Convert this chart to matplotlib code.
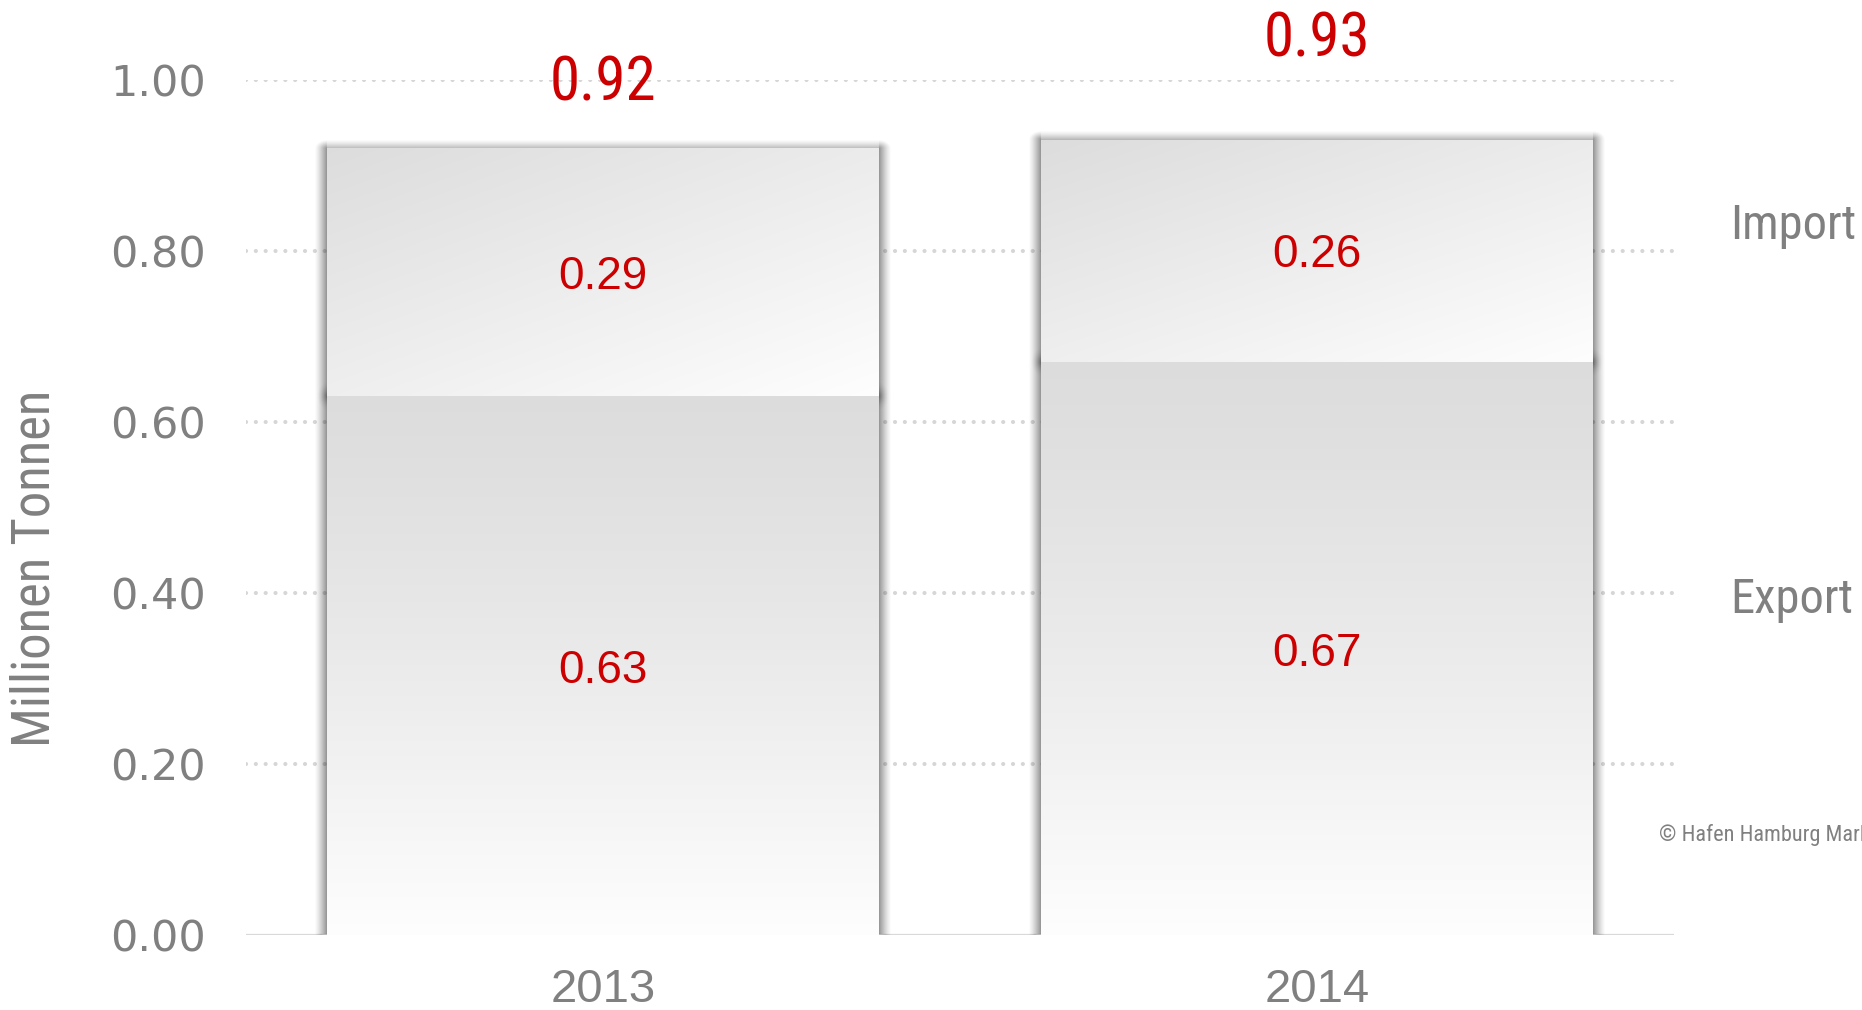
import numpy as np
import matplotlib
matplotlib.use("Agg")
import matplotlib.pyplot as plt
from matplotlib.patches import Rectangle
from matplotlib import font_manager as fm

# ---------------- data ----------------
years = ["2013", "2014"]
export_vals = [0.63, 0.67]
import_vals = [0.29, 0.26]
totals = [0.92, 0.93]
yticks = [0.0, 0.2, 0.4, 0.6, 0.8, 1.0]
series_names = ["Import", "Export"]
y_label = "Millionen Tonnen"
credit = "© Hafen Hamburg Marketing"

# ---------------- styles ----------------
RED = "#cc0000"
GRAY = "#808080"
total_label_offsets = [0.076, 0.117]


def pick(cands):
    names = {f.name for f in fm.fontManager.ttflist}
    for c in cands:
        if c in names:
            return c
    return "DejaVu Sans"


NARROW = pick(["Liberation Sans Narrow", "Roboto Condensed", "Roboto"])
ARIAL = pick(["Liberation Sans", "Arial"])

fig = plt.figure(figsize=(18.62, 10.10), dpi=100)
ax = fig.add_axes([0.1321, 0.0743, 0.7669, 0.8465])
ax.set_xlim(-0.5, 1.5)
ax.set_ylim(0, 1.0)

x = np.arange(len(years))
width = 0.773

# grid lines (round dots)
for t in yticks[1:]:
    ax.axhline(t, color="#d6d6d6", lw=3.0, ls=(0, (0.01, 2.35)),
               dash_capstyle="round", zorder=0)
ax.axhline(0, color="#d9d9d9", lw=1.6, zorder=1)

# px -> data conversions
px_x = 1.0 / 713.0
px_y = 1.0 / 855.0


def soft_shadow(x0, y0, x1, y1, z, a_side=0.45, r_side=13.0,
                a_top=0.28, r_top=9.0):
    m = max(r_side, r_top) + 2
    ex0, ex1 = x0 - m * px_x, x1 + m * px_x
    ey0, ey1 = max(y0 - m * px_y, 0), y1 + m * px_y
    nx = int((ex1 - ex0) / px_x)
    ny = int((ey1 - ey0) / px_y)
    X = np.linspace(ex0, ex1, nx)
    Y = np.linspace(ey1, ey0, ny)
    XX, YY = np.meshgrid(X, Y)
    dx = np.maximum(np.maximum(x0 - XX, XX - x1), 0) / px_x
    dy = np.maximum(np.maximum(y0 - YY, YY - y1), 0) / px_y
    ds = np.sqrt(dx ** 2 + (dy * r_side / r_top) ** 2)
    alpha = a_side * np.clip(1 - ds / r_side, 0, 1) ** 1.3
    top_only = (dx == 0)
    alpha = np.where(top_only,
                     a_top * np.clip(1 - dy / r_top, 0, 1) ** 1.3, alpha)
    img = np.zeros((ny, nx, 4))
    img[..., 3] = alpha
    ax.imshow(img, extent=(ex0, ex1, ey0, ey1), origin="upper",
              aspect="auto", interpolation="bilinear", zorder=z)


def split_blob(x0, x1, y, z, a=0.35, r=16.0):
    m = r + 2
    ex0, ex1 = x0 - m * px_x, x1 + m * px_x
    ey0, ey1 = y - m * px_y, y + m * px_y
    nx = int((ex1 - ex0) / px_x)
    ny = int((ey1 - ey0) / px_y)
    X = np.linspace(ex0, ex1, nx)
    Y = np.linspace(ey1, ey0, ny)
    XX, YY = np.meshgrid(X, Y)
    dx = np.maximum(np.maximum(x0 - XX, XX - x1), 0) / px_x
    dy = np.abs(YY - y) / px_y
    d = np.sqrt((dx * 1.4) ** 2 + dy ** 2)
    alpha = a * np.clip(1 - d / r, 0, 1) ** 2
    img = np.zeros((ny, nx, 4))
    img[..., 3] = alpha
    ax.imshow(img, extent=(ex0, ex1, ey0, ey1), origin="upper",
              aspect="auto", interpolation="bilinear", zorder=z)


def gradient_bar(x0, y0, w, h, kind, z):
    rect = Rectangle((x0, y0), w, h, facecolor="none", edgecolor="none",
                     zorder=z)
    ax.add_patch(rect)
    ny, nx = 200, 200
    yy, xx = np.mgrid[0:1:ny * 1j, 0:1:nx * 1j]
    if kind == "v":
        t = np.clip(yy ** 1.2, 0, 1)
    else:
        t = np.clip(0.55 * yy + 0.45 * xx, 0, 1)
    c0, c1 = 0.865, 0.995
    v = c0 + (c1 - c0) * t
    img = np.dstack([v, v, v])
    im = ax.imshow(img, extent=(x0, x0 + w, y0, y0 + h), origin="upper",
                   aspect="auto", interpolation="bilinear", zorder=z)
    im.set_clip_path(rect)


for i in range(len(years)):
    x0 = x[i] - width / 2
    top = export_vals[i] + import_vals[i]
    soft_shadow(x0, 0, x0 + width, top, 2)
    split_blob(x0, x0 + width, export_vals[i], 2.5)
    gradient_bar(x0, 0, width, export_vals[i], "v", 3)
    gradient_bar(x0, export_vals[i], width, import_vals[i], "d", 4)

    ax.annotate(f"{export_vals[i]:.2f}", (x[i], export_vals[i] / 2),
                xytext=(0, -4), textcoords="offset points", color=RED,
                fontsize=33, family=ARIAL, ha="center", va="center", zorder=6)
    ax.annotate(f"{import_vals[i]:.2f}",
                (x[i], export_vals[i] + import_vals[i] / 2),
                xytext=(0, -3), textcoords="offset points",
                color=RED, fontsize=33, family=ARIAL, ha="center",
                va="center", zorder=6)
    ax.text(x[i], top + total_label_offsets[i],
            f"{totals[i]:.2f}", color=RED, fontsize=44, family=NARROW,
            ha="center", va="center", zorder=6, clip_on=False)

    ax.hlines([0], [x0 - 6 * px_x], [x0 + width + 6 * px_x],
              color="#b8b8b8", lw=2.2, zorder=2.2)

ax.set_xlim(-0.5, 1.5)
ax.set_ylim(0, 1.0)

ax.set_yticks(yticks)
ax.set_yticklabels([f"{t:.2f}" for t in yticks], color=GRAY, fontsize=31,
                   family="DejaVu Sans")
ax.set_xticks(x)
ax.set_xticklabels(years, color=GRAY, fontsize=34, family=ARIAL)
ax.tick_params(axis="both", length=0)
ax.tick_params(axis="y", pad=29)
ax.tick_params(axis="x", pad=24)
for s in ax.spines.values():
    s.set_visible(False)

fig.text(0.019, 0.4376, y_label, rotation=90, color=GRAY, fontsize=38,
         family=NARROW, ha="center", va="center")

fig.text(0.929, 0.776, series_names[0], color=GRAY, fontsize=35,
         family=NARROW, ha="left", va="center")
fig.text(0.929, 0.406, series_names[1], color=GRAY, fontsize=35,
         family=NARROW, ha="left", va="center")
fig.text(0.891, 0.173, credit, color=GRAY, fontsize=16, family=NARROW,
         ha="left", va="center")

fig.savefig("out.png", dpi=100)
